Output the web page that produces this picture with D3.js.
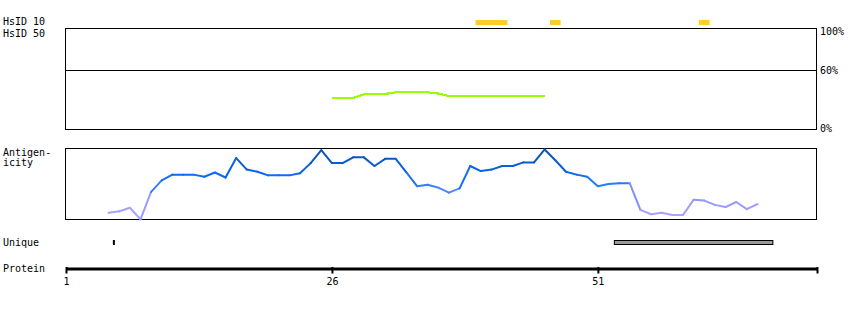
<!DOCTYPE html>
<html>
<head>
<meta charset="utf-8">
<script src="https://cdn.jsdelivr.net/npm/d3@7"></script>
<style>
  body { margin: 0; background: #fff; }
  text { font-family: 'DejaVu Sans Mono', monospace; font-size: 10px; fill: #000; }
</style>
</head>
<body>
<div id="chart"></div>
<script>
// protein residue range shown on the axis
const residueStart = 1
const residueEnd = 71.6
const proteinTicks = [1, 26, 51]

// HsID 10 hits (residue ranges)
const hsid10Start = [40, 47, 61]
const hsid10End = [42, 47, 61]

// HsID 50 identity (%) per residue
const hsid50Residues = [26, 27, 28, 29, 30, 31, 32, 33, 34, 35, 36, 37, 38, 39, 40, 41, 42, 43, 44, 45, 46]
const hsid50Values = [31.7, 31.7, 32, 35.7, 35.7, 36, 37.7, 37.7, 37.7, 37.7, 36.5, 34, 34, 34, 34, 34, 34, 34, 34, 34, 34]
const percentTicks = [0, 60, 100]

// antigenicity score (0-1) per residue
const antiResidues = d3.range(5, 67)
const antiValues = [
  0.10, 0.12, 0.17, 0.01, 0.39, 0.55, 0.63, 0.63, 0.63, 0.60,
  0.66, 0.59, 0.86, 0.70, 0.67, 0.62, 0.62, 0.62, 0.65, 0.79,
  0.97, 0.79, 0.79, 0.87, 0.87, 0.75, 0.85, 0.85, 0.66, 0.47,
  0.49, 0.45, 0.38, 0.44, 0.75, 0.68, 0.70, 0.75, 0.75, 0.80,
  0.80, 0.98, 0.83, 0.67, 0.63, 0.60, 0.47, 0.50, 0.51, 0.51,
  0.14, 0.08, 0.10, 0.07, 0.07, 0.28, 0.27, 0.21, 0.18, 0.25,
  0.15, 0.22
]

// unique regions (residue coordinates)
const uniqueStart = [5.5, 52.5]
const uniqueEnd = [5.5, 67.5]

const width = 850
const height = 310

const svg = d3.select('#chart')
  .append('svg')
  .attr('width', width)
  .attr('height', height)

const x = d3.scaleLinear().domain([residueStart, residueEnd]).range([66, 817])

// --- HsID 10 bars
svg.selectAll('.hs10')
  .data(hsid10Start)
  .enter()
  .append('rect')
  .attr('x', (d, i) => x(d - 0.5))
  .attr('width', (d, i) => x(hsid10End[i] + 0.5) - x(d - 0.5))
  .attr('y', 20)
  .attr('height', 5)
  .attr('fill', '#ffcc29')

// --- HsID 50 panel
const yPct = d3.scaleLinear().domain([0, 60, 100]).range([130, 70, 28.5])

svg.append('rect')
  .attr('x', 65.5).attr('y', 28.5)
  .attr('width', 751).attr('height', 101)
  .attr('fill', 'none').attr('stroke', '#000')

svg.append('line')
  .attr('x1', 66).attr('x2', 817)
  .attr('y1', yPct(60) + 0.5).attr('y2', yPct(60) + 0.5)
  .attr('stroke', '#000')

// labels centred on their line, kept inside the panel
svg.selectAll('.pct')
  .data(percentTicks)
  .enter()
  .append('text')
  .attr('x', 820)
  .attr('y', d => Math.max(35, Math.min(132, yPct(d) + 3.5)))
  .text(d => d + '%')

const greenLine = d3.line()
  .x((d, i) => x(hsid50Residues[i]))
  .y(d => yPct(d))

svg.append('path')
  .attr('d', greenLine(hsid50Values))
  .attr('fill', 'none')
  .attr('stroke', '#99ff00')
  .attr('stroke-width', 2.2)
  .attr('shape-rendering', 'crispEdges')

// --- Antigenicity panel
const yAnti = d3.scaleLinear().domain([0, 1]).range([220, 148])
const antiColor = d3.scaleLinear()
  .domain([0, 0.3, 0.45, 0.65, 1])
  .range(['#b4aaff', '#8e94ff', '#3582ff', '#0a66f2', '#0a4ea6'])

svg.append('rect')
  .attr('x', 65.5).attr('y', 148.5)
  .attr('width', 751).attr('height', 71)
  .attr('fill', 'none').attr('stroke', '#000')

const segments = d3.pairs(antiValues.map((v, i) => ({ r: antiResidues[i], v: v })))

svg.selectAll('.anti')
  .data(segments)
  .enter()
  .append('line')
  .attr('x1', d => x(d[0].r))
  .attr('y1', d => yAnti(d[0].v))
  .attr('x2', d => x(d[1].r))
  .attr('y2', d => yAnti(d[1].v))
  .attr('stroke', d => antiColor((d[0].v + d[1].v) / 2))
  .attr('stroke-width', 2)
  .attr('stroke-linecap', 'round')

// --- Unique regions
svg.selectAll('.uniq')
  .data(uniqueStart)
  .enter()
  .append('rect')
  .attr('x', (d, i) => uniqueEnd[i] - d > 0.2 ? x(d) + 0.5 : x(d) - 1)
  .attr('width', (d, i) => uniqueEnd[i] - d > 0.2 ? x(uniqueEnd[i]) - x(d) - 1 : 2)
  .attr('y', (d, i) => uniqueEnd[i] - d > 0.2 ? 240.5 : 240)
  .attr('height', (d, i) => uniqueEnd[i] - d > 0.2 ? 4 : 5)
  .attr('fill', (d, i) => uniqueEnd[i] - d > 0.2 ? '#999' : '#000')
  .attr('stroke', (d, i) => uniqueEnd[i] - d > 0.2 ? '#000' : 'none')

// --- Protein axis
const axis = d3.axisBottom(x)
  .tickValues(proteinTicks.concat([residueEnd]))
  .tickFormat(d => proteinTicks.includes(d) ? d : '')
  .tickSize(5)
  .tickSizeOuter(0)

const gAxis = svg.append('g')
  .attr('transform', 'translate(0,268.5)')
  .call(axis)

gAxis.select('.domain').attr('stroke-width', 3).attr('stroke', '#000')
gAxis.selectAll('.tick line').attr('stroke-width', 2).attr('y1', -1.5)
gAxis.selectAll('.tick text')
  .attr('y', 9)
  .style('font-family', "'DejaVu Sans Mono', monospace")
  .style('font-size', '10px')
  .attr('fill', '#000')

// --- Left labels
const labels = [
  ['HsID 10', 25],
  ['HsID 50', 37],
  ['Antigen-', 156],
  ['icity', 166],
  ['Unique', 246],
  ['Protein', 272]
]
svg.selectAll('.lbl')
  .data(labels)
  .enter()
  .append('text')
  .attr('x', 3)
  .attr('y', d => d[1])
  .text(d => d[0])
</script>
</body>
</html>
